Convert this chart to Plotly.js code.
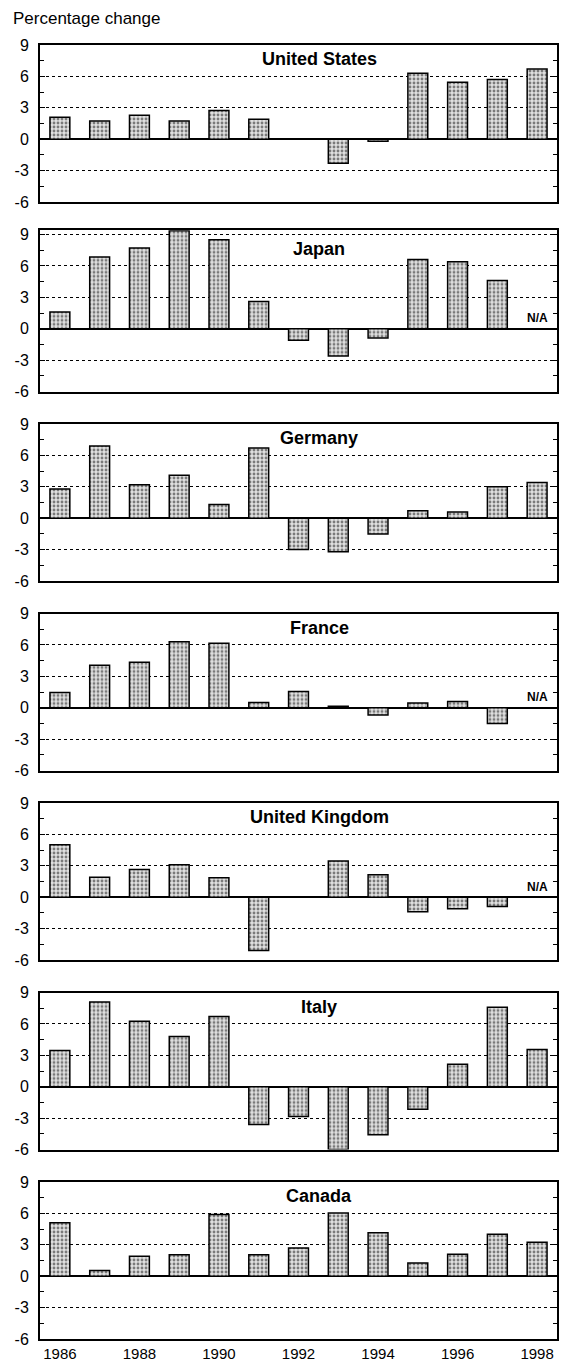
<!DOCTYPE html>
<html><head><meta charset="utf-8">
<script src="https://cdn.plot.ly/plotly-3.0.1.min.js"></script>
<style>html,body{margin:0;padding:0;background:#fff;}</style>
</head><body>
<div id="chart" style="width:562px;height:1362px;"></div>
<script>
const years = [1986,1987,1988,1989,1990,1991,1992,1993,1994,1995,1996,1997,1998];
const countries = ["United States","Japan","Germany","France","United Kingdom","Italy","Canada"];
const unitedStates = [2.1,1.75,2.3,1.75,2.75,1.9,0,-2.3,-0.2,6.3,5.45,5.7,6.7];
const japan        = [1.6,6.85,7.7,9.35,8.5,2.6,-1.1,-2.6,-0.9,6.6,6.4,4.6,null];
const germany      = [2.8,6.9,3.2,4.1,1.3,6.7,-3.0,-3.2,-1.5,0.7,0.6,3.0,3.4];
const france       = [1.45,4.05,4.35,6.3,6.15,0.5,1.55,0.15,-0.7,0.45,0.6,-1.5,null];
const unitedKingdom= [5.0,1.9,2.65,3.1,1.85,-5.1,0,3.45,2.15,-1.4,-1.1,-0.9,null];
const italy        = [3.45,8.1,6.25,4.8,6.7,-3.6,-2.85,-6.0,-4.6,-2.15,2.15,7.6,3.55];
const canada       = [5.1,0.55,1.9,2.05,5.9,2.05,2.7,6.05,4.15,1.25,2.1,4.0,3.25];
const seriesList = [unitedStates,japan,germany,france,unitedKingdom,italy,canada];
const naFlags = [false,true,false,true,true,false,false];
const yTickVals = [-6,-3,0,3,6,9];
const yTickText = ["-6","-3","0","3","6","9"];
const xTickVals = [1986,1988,1990,1992,1994,1996,1998];
const yLabel = "Percentage change";

const H = 1362;
const FONT = "Liberation Sans, Arial, sans-serif";
const traces = [], layout = {
  width:562, height:1362, showlegend:false,
  margin:{l:40,r:5,t:0,b:0},
  paper_bgcolor:"#fff", plot_bgcolor:"#fff",
  font:{family:FONT,color:"#000"},
  annotations:[], shapes:[]
};
const panelTop0 = 45, panelStep = 189.5, panelH = 157;
seriesList.forEach((vals,i)=>{
  const n = i+1, xs = n===1?"":String(n);
  const yMax = Math.max(9, Math.ceil(Math.max(...vals.filter(v=>v!==null))*10+0.5)/10);
  traces.push({
    type:"bar", x:years, y:vals, xaxis:"x"+xs, yaxis:"y"+xs, width:0.5,
    cliponaxis:false,
    marker:{color:"#d4d4d4", line:{color:"#000",width:1.5},
      pattern:{shape:".",fgcolor:"#7a7a7a",bgcolor:"#e0e0e0",size:4,solidity:0.4}},
    hoverinfo:"x+y"
  });
  const pxPerUnit = panelH/15;
  const top = panelTop0 + i*panelStep - (yMax-9)*pxPerUnit, bot = panelTop0 + i*panelStep + panelH;
  const dom = [(H-bot)/H, (H-top)/H];
  layout["xaxis"+xs] = {
    domain:[0,1], range:[1985.5,1998.5], anchor:"y"+xs,
    tickvals:xTickVals, showticklabels: n===7, ticks:"",
    tickfont:{size:15,family:FONT}, showgrid:false, zeroline:false,
    showline:true, linecolor:"#000", linewidth:2, mirror:true, fixedrange:true
  };
  layout["yaxis"+xs] = {
    domain:dom, range:[-6,yMax], anchor:"x"+xs,
    tickvals:yTickVals, ticktext:yTickText, ticks:"inside", ticklen:5, tickcolor:"#000",
    tickfont:{size:16,family:FONT}, ticklabelstandoff:6,
    showgrid:true, gridcolor:"#000", griddash:"dot", gridwidth:1,
    zeroline:true, zerolinecolor:"#000", zerolinewidth:2,
    showline:true, linecolor:"#000", linewidth:2, mirror:"ticks",
    minor:{dtick:1.5, tick0:0, ticks:"inside", ticklen:4, tickcolor:"#000", showgrid:false},
    fixedrange:true
  };
  layout.annotations.push({
    text:"<b>"+countries[i]+"</b>", xref:"x"+xs+" domain", yref:"paper",
    x:0.54, y:(H-(panelTop0 + i*panelStep + 14))/H, xanchor:"center", yanchor:"middle", showarrow:false,
    font:{size:18,family:FONT,color:"#000"}
  });
  if(naFlags[i]){
    layout.annotations.push({
      text:"<b>N/A</b>", xref:"x"+xs, yref:"y"+xs, x:1998, y:0.15,
      xanchor:"center", yanchor:"bottom", showarrow:false,
      font:{size:12,family:FONT,color:"#000"}
    });
  }
});
layout.annotations.push({
  text:yLabel, xref:"paper", yref:"paper", x:-0.056, y:(H-19)/H,
  xanchor:"left", yanchor:"middle", showarrow:false,
  font:{size:17,family:FONT,color:"#000"}
});
Plotly.newPlot("chart", traces, layout, {displayModeBar:false, staticPlot:true});
</script>
</body></html>
